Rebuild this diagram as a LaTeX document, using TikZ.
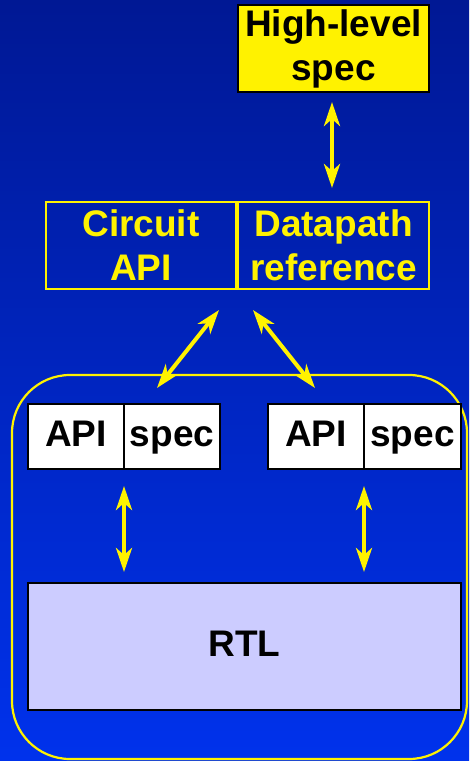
\documentclass[tikz,border=0pt]{standalone}
\usepackage{fontspec}
\setmainfont{Liberation Sans}
\usetikzlibrary{arrows.meta}
\definecolor{bgtop}{RGB}{0,24,148}
\definecolor{bgbot}{RGB}{0,50,236}
\definecolor{rtlfill}{RGB}{204,204,255}
\tikzset{
  lbl/.style={font=\fontsize{37}{44}\selectfont\bfseries, align=center, inner sep=0pt},
  one/.style={font=\fontsize{37}{44}\selectfont\bfseries, inner sep=0pt, text height=27pt, text depth=7pt},
  specbox/.style={lbl, draw=black, line width=2.2pt, fill=yellow, text=black},
  ybox/.style={lbl, draw=yellow, line width=1.6pt, text=yellow},
  wbox/.style={one, draw=black, line width=2.2pt, fill=white, text=black},
  rtlbox/.style={one, draw=black, line width=2.2pt, fill=rtlfill, text=black},
  arr/.style={draw=yellow, line width=4pt,
    {Stealth[length=24pt,width=16pt,inset=7pt]}-{Stealth[length=24pt,width=16pt,inset=7pt]}},
}
\begin{document}
\begin{tikzpicture}[x=1pt,y=-1pt]
  % background
  \shade[top color=bgtop, bottom color=bgbot] (0,0) rectangle (469,761);
  \useasboundingbox (0,0) rectangle (469,761);

  % enclosing block
  \draw[yellow, line width=2.2pt, rounded corners=58pt] (12,375) rectangle (467,759);

  % top specification
  \node[specbox, minimum width=191pt, minimum height=87pt] (hl) at (333.5,48.5) {High-level\\spec};

  % reference model
  \node[ybox, minimum width=190pt, minimum height=87pt] (circ) at (141,245.5) {Circuit\\API};
  \node[ybox, minimum width=191pt, minimum height=87pt] (data) at (333.5,245.5) {Datapath\\reference};

  % API / spec pairs
  \node[wbox, minimum width=96pt, minimum height=65pt] (api1) at (76,436.5) {API};
  \node[wbox, minimum width=96pt, minimum height=65pt] (spec1) at (172,436.5) {spec};
  \node[wbox, minimum width=96pt, minimum height=65pt] (api2) at (316,436.5) {API};
  \node[wbox, minimum width=97pt, minimum height=65pt] (spec2) at (412.5,436.5) {spec};

  % RTL
  \node[rtlbox, minimum width=433pt, minimum height=127pt] (rtl) at (244.5,646.5) {RTL};

  % arrow end points
  \coordinate (t1) at (332,102);
  \coordinate (t2) at (332,188);
  \coordinate (l1) at (219,310);
  \coordinate (l2) at (157,388);
  \coordinate (r1) at (253,310);
  \coordinate (r2) at (315,388);
  \coordinate (a1) at (124,486);
  \coordinate (a2) at (124,572);
  \coordinate (b1) at (364,486);
  \coordinate (b2) at (364,572);

  \draw[arr] (t1) -- (t2);
  \draw[arr] (l1) -- (l2);
  \draw[arr] (r1) -- (r2);
  \draw[arr] (a1) -- (a2);
  \draw[arr] (b1) -- (b2);
\end{tikzpicture}
\end{document}
